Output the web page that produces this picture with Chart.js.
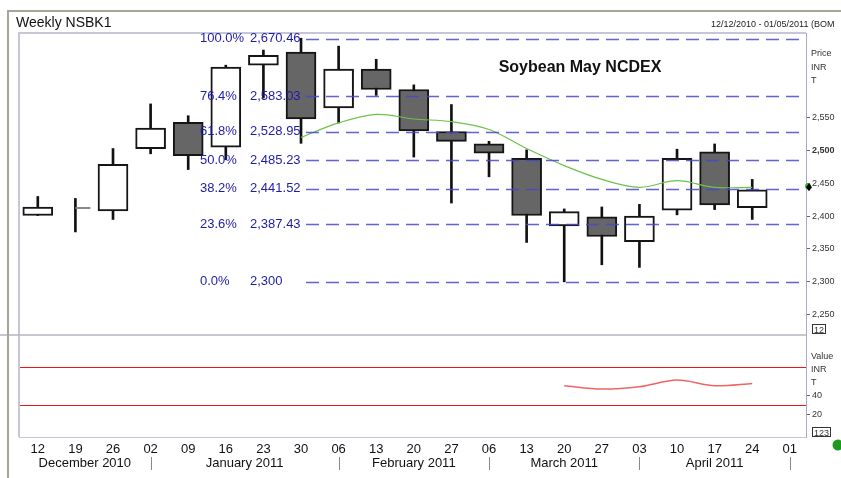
<!DOCTYPE html>
<html>
<head>
<meta charset="utf-8">
<script src="https://cdn.jsdelivr.net/npm/chart.js@4.4.1/dist/chart.umd.min.js"></script>
<style>
  html, body { margin: 0; padding: 0; background: #fff; }
  #wrap { width: 841px; height: 478px; position: relative; }
</style>
</head>
<body>
<div id="wrap"><canvas id="chart" width="841" height="478"></canvas></div>
<script>
const dayLabels = ['12', '19', '26', '02', '09', '16', '23', '30', '06', '13', '20', '27', '06', '13', '20', '27', '03', '10', '17', '24', '01'];
const months = ['December 2010', 'January 2011', 'February 2011', 'March 2011', 'April 2011'];
const monthEnds = [3, 8, 12, 16, 20];

const opens  = [2401, null, 2408, 2503, 2543, 2505, 2630, 2650, 2565, 2624, 2593, 2529, 2510, 2488, 2385, 2399, 2361, 2409, 2498, 2413];
const highs  = [2430, 2427, 2503, 2571, 2553, 2630, 2653, 2671, 2659, 2639, 2600, 2570, 2514, 2501, 2411, 2414, 2418, 2502, 2510, 2456];
const lows   = [2401, 2376, 2395, 2495, 2471, 2486, 2580, 2511, 2542, 2584, 2490, 2420, 2460, 2360, 2300, 2326, 2322, 2402, 2410, 2395];
const closes = [2414, 2412, 2479, 2534, 2492, 2627, 2645, 2548, 2624, 2593, 2530, 2514, 2496, 2401, 2407, 2369, 2400, 2488, 2417, 2440];

const maValues = [null, null, null, null, null, null, null, 2520, 2542, 2555, 2548, 2544, 2532, 2503, 2477, 2456, 2444, 2454, 2444, 2444];
const oscValues = [null, null, null, null, null, null, null, null, null, null, null, null, null, null, 50, 46.5, 49, 56, 50, 52.5];
const oscLevels = [70, 30];

const fibPct = ['100.0%', '76.4%', '61.8%', '50.0%', '38.2%', '23.6%', '0.0%'];
const fibValues = [2670.46, 2583.03, 2528.95, 2485.23, 2441.52, 2387.43, 2300];

const priceTicks = [2250, 2300, 2350, 2400, 2450, 2500, 2550];
const oscTicks = [20, 40];

const FONT = "'Liberation Sans', Arial, sans-serif";

function fmt(v) {
  return v % 1 === 0 ? v.toLocaleString('en-US') : v.toLocaleString('en-US', { minimumFractionDigits: 2 });
}

const overlay = {
  id: 'overlay',
  beforeDatasetsDraw(chart) {
    const { ctx, chartArea: a, scales } = chart;
    ctx.save();
    // panel borders
    ctx.strokeStyle = '#c6c6d6';
    ctx.lineWidth = 2;
    ctx.beginPath();
    ctx.moveTo(a.left, a.bottom);
    ctx.lineTo(a.left, a.top);
    ctx.lineTo(a.right, a.top);
    ctx.stroke();
    ctx.strokeStyle = '#b4b4c4';
    ctx.lineWidth = 1.5;
    const sep = scales.y.bottom;
    ctx.beginPath();
    ctx.moveTo(0, sep);
    ctx.lineTo(a.right, sep);
    ctx.stroke();
    ctx.restore();
  },
  afterDatasetsDraw(chart) {
    const { ctx, chartArea: a, scales } = chart;
    const x = scales.x, y = scales.y;
    ctx.save();
    // oscillator bands
    ctx.strokeStyle = 'rgb(240, 20, 20)';
    ctx.lineWidth = 1;
    oscLevels.forEach(lv => {
      const py = Math.round(scales.y2.getPixelForValue(lv)) + 0.5;
      ctx.beginPath();
      ctx.moveTo(a.left + 1, py);
      ctx.lineTo(a.right, py);
      ctx.stroke();
    });
    // fibonacci retracement
    const lineStart = x.getPixelForValue(7) + 5;
    ctx.strokeStyle = 'rgba(70, 70, 200, 0.85)';
    ctx.lineWidth = 1.5;
    ctx.setLineDash([13, 7]);
    fibValues.forEach(v => {
      const py = Math.round(y.getPixelForValue(v)) + 0.5;
      ctx.beginPath();
      ctx.moveTo(lineStart, py);
      ctx.lineTo(a.right, py);
      ctx.stroke();
    });
    ctx.setLineDash([]);
    ctx.fillStyle = '#1c1ca6';
    ctx.font = `13px ${FONT}`;
    ctx.textBaseline = 'middle';
    ctx.textAlign = 'left';
    fibValues.forEach((v, i) => {
      const py = y.getPixelForValue(v);
      ctx.fillText(fibPct[i], 200, py);
      ctx.fillText(fmt(v), 250, py);
    });
    // close tick for bars without an open
    ctx.strokeStyle = '#888';
    ctx.lineWidth = 2;
    opens.forEach((o, i) => {
      if (o !== null) return;
      const px = x.getPixelForValue(i);
      const py = Math.round(y.getPixelForValue(closes[i]));
      ctx.beginPath();
      ctx.moveTo(px, py);
      ctx.lineTo(px + 15, py);
      ctx.stroke();
    });
    // last MA marker on the axis
    const last = maValues[maValues.length - 1];
    const my = y.getPixelForValue(last);
    const mx = a.right + 3;
    ctx.fillStyle = '#3cb43c';
    ctx.beginPath();
    ctx.arc(mx - 1, my - 1, 3, 0, Math.PI * 2);
    ctx.fill();
    ctx.fillStyle = '#000';
    ctx.beginPath();
    ctx.moveTo(mx, my - 4);
    ctx.lineTo(mx + 3, my);
    ctx.lineTo(mx, my + 4);
    ctx.lineTo(mx - 3, my);
    ctx.closePath();
    ctx.fill();
    ctx.restore();
  },
  afterDraw(chart) {
    const { ctx, scales } = chart;
    const x = scales.x;
    ctx.save();
    // outer frame
    ctx.strokeStyle = '#a8a498';
    ctx.lineWidth = 2;
    ctx.beginPath();
    ctx.moveTo(8, 478);
    ctx.lineTo(8, 11);
    ctx.lineTo(841, 11);
    ctx.stroke();

    ctx.fillStyle = '#111';
    ctx.textBaseline = 'alphabetic';
    ctx.font = `14px ${FONT}`;
    ctx.fillText('Weekly NSBK1', 16, 27);
    ctx.font = `9px ${FONT}`;
    ctx.fillStyle = '#222';
    ctx.fillText('12/12/2010 - 01/05/2011 (BOM', 711, 27);

    ctx.font = `bold 16px ${FONT}`;
    ctx.fillStyle = '#111';
    ctx.textAlign = 'center';
    ctx.fillText('Soybean May NCDEX', 580, 72);

    // axis captions
    ctx.textAlign = 'left';
    ctx.font = `9px ${FONT}`;
    ctx.fillStyle = '#333';
    ['Price', 'INR', 'T'].forEach((t, i) => ctx.fillText(t, 811, 56 + i * 13.5));
    ['Value', 'INR', 'T'].forEach((t, i) => ctx.fillText(t, 811, 359 + i * 13));
    ctx.strokeStyle = '#333';
    ctx.lineWidth = 1;
    ctx.strokeRect(812.5, 324.5, 13, 9);
    ctx.fillText('12', 814, 332.5);
    ctx.strokeRect(812.5, 427.5, 18, 9);
    ctx.fillText('123', 814, 435.5);

    // month labels and separators
    ctx.font = `13px ${FONT}`;
    ctx.fillStyle = '#111';
    ctx.textAlign = 'center';
    ctx.textBaseline = 'middle';
    let start = x.min;
    months.forEach((m, i) => {
      const end = monthEnds[i];
      ctx.fillText(m, x.getPixelForValue((start + end) / 2), 463);
      const sx = Math.round(x.getPixelForValue(end)) + 0.5;
      ctx.strokeStyle = '#888';
      ctx.beginPath();
      ctx.moveTo(sx, 457);
      ctx.lineTo(sx, 470);
      ctx.stroke();
      start = end;
    });

    // status dot
    ctx.fillStyle = '#1b9a1b';
    ctx.beginPath();
    ctx.arc(838, 445, 5.5, 0, Math.PI * 2);
    ctx.fill();
    ctx.restore();
  }
};

const bodyIdx = opens.map((o, i) => i).filter(i => opens[i] !== null);

new Chart(document.getElementById('chart'), {
  type: 'line',
  data: {
    datasets: [
      {
        type: 'bar',
        label: 'Range',
        data: highs.map((h, i) => ({ x: i, y: [lows[i], h] })),
        backgroundColor: '#111',
        barThickness: 2,
        grouped: false,
        yAxisID: 'y',
        order: 3
      },
      {
        type: 'bar',
        label: 'Body',
        data: bodyIdx.map(i => ({ x: i, y: [opens[i], closes[i]] })),
        backgroundColor: bodyIdx.map(i => closes[i] >= opens[i] ? '#ffffff' : '#666666'),
        borderColor: '#151515',
        borderWidth: 2,
        borderSkipped: false,
        barThickness: 30,
        grouped: false,
        yAxisID: 'y',
        order: 2
      },
      {
        type: 'line',
        label: 'MA',
        data: maValues.map((v, i) => ({ x: i, y: v })).filter(p => p.y !== null),
        borderColor: '#6cc24a',
        borderWidth: 1.2,
        pointRadius: 0,
        tension: 0.35,
        yAxisID: 'y',
        order: 1
      },
      {
        type: 'line',
        label: 'Osc',
        data: oscValues.map((v, i) => ({ x: i, y: v })).filter(p => p.y !== null),
        borderColor: '#f06464',
        borderWidth: 1.5,
        pointRadius: 0,
        tension: 0.3,
        yAxisID: 'y2',
        order: 1
      }
    ]
  },
  options: {
    responsive: false,
    animation: false,
    devicePixelRatio: 1,
    layout: { padding: { left: 19, top: 33, right: 0, bottom: 0 } },
    plugins: { legend: { display: false }, tooltip: { enabled: false } },
    scales: {
      x: {
        type: 'linear',
        min: -0.5,
        max: 20.43,
        offset: false,
        afterBuildTicks: s => { s.ticks = dayLabels.map((_, i) => ({ value: i })); },
        afterFit: s => { s.height = 41; },
        grid: { display: false, drawTicks: false },
        border: { display: true, color: '#c4c4d4', width: 1 },
        ticks: {
          autoSkip: false,
          maxRotation: 0,
          padding: 5,
          color: '#111',
          font: { size: 13, family: FONT },
          callback: (v, i) => dayLabels[i]
        }
      },
      y: {
        position: 'right',
        stack: 'panes',
        stackWeight: 302,
        min: 2219,
        max: 2679,
        afterBuildTicks: s => { s.ticks = priceTicks.map(v => ({ value: v })); },
        afterFit: s => { s.width = 35; },
        grid: { drawOnChartArea: false, drawTicks: true, tickLength: 4, color: '#666' },
        border: { color: '#a8a8cc', width: 1 },
        ticks: {
          autoSkip: false,
          padding: 2,
          color: '#333',
          font: c => ({ size: 9, family: FONT, weight: c.tick && c.tick.value === 2500 ? 'bold' : 'normal' }),
          callback: v => v.toLocaleString('en-US')
        }
      },
      y2: {
        position: 'right',
        stack: 'panes',
        stackWeight: 102,
        min: -4,
        max: 103.5,
        afterBuildTicks: s => { s.ticks = oscTicks.map(v => ({ value: v })); },
        afterFit: s => { s.width = 35; },
        grid: { drawOnChartArea: false, drawTicks: true, tickLength: 4, color: '#666' },
        border: { color: '#a8a8cc', width: 1 },
        ticks: { autoSkip: false, padding: 2, color: '#333', font: { size: 9, family: FONT } }
      }
    }
  },
  plugins: [overlay]
});
</script>
</body>
</html>
